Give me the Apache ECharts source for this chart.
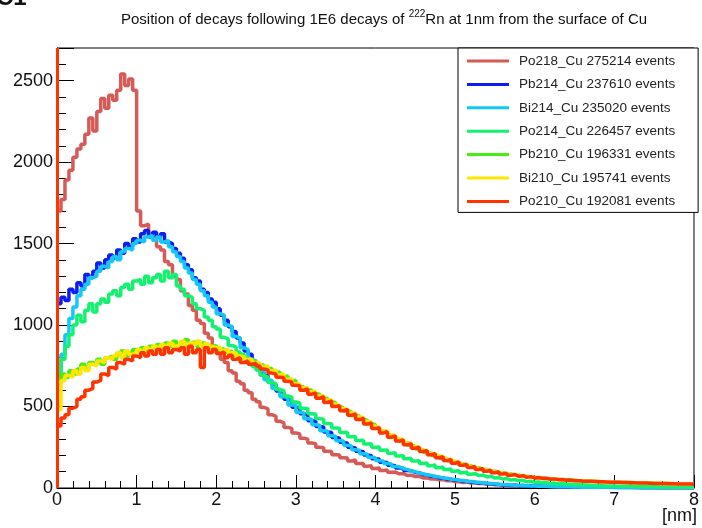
<!DOCTYPE html>
<html>
<head>
<meta charset="utf-8">
<script src="https://cdn.jsdelivr.net/npm/echarts@6/dist/echarts.min.js"></script>
<style>
html,body{margin:0;padding:0;background:#fff;}
#c{width:702px;height:528px;}
</style>
</head>
<body>
<div id="c"></div>
<script>
// Histogram bin width (nm) and x range
const binWidth = 0.05;
const xTicks = [0, 1, 2, 3, 4, 5, 6, 7, 8];

const seriesNames = [
  'Po218_Cu 275214 events',
  'Pb214_Cu 237610 events',
  'Bi214_Cu 235020 events',
  'Po214_Cu 226457 events',
  'Pb210_Cu 196331 events',
  'Bi210_Cu 195741 events',
  'Po210_Cu 192081 events'
];

// counts per bin (bins of 0.05 nm from 0 to 8 nm)
const po218 = [1700,1770,1890,1950,2030,2080,2110,2170,2270,2190,
 2310,2390,2330,2410,2380,2440,2540,2470,2510,2440,
 1700,1610,1620,1550,1540,1480,1460,1390,1370,1300,
 1280,1210,1190,1120,1090,1030,1010,950,920,860,
 840,790,770,720,705,655,640,600,585,545,
 530,495,485,450,440,410,400,372,365,338,
 332,305,300,276,272,250,247,226,224,204,
 203,185,184,166,172,150,151,134,136,120,
 122,108,110,97,98,87,88,77,79,70,
 71,62,63,55,57,50,51,44,45,39,
 40,34,36,30,31,27,28,24,24,21,
 21,18,19,16,17,14,15,12,13,11,
 11,10,11,9,9,8,9,8,7,7,
 7,6,6,6,6,5,5,5,5,4,
 4,4,4,4,3,3,3,3,3,3,
 2,3,2,2,2,2,2,2,1,1];

const pb214 = [1130,1170,1150,1220,1200,1260,1240,1310,1290,1330,
 1380,1350,1400,1430,1410,1460,1440,1500,1480,1530,
 1510,1560,1580,1540,1570,1540,1560,1510,1500,1470,
 1440,1410,1370,1340,1290,1270,1220,1200,1160,1140,
 1100,1060,1030,990,960,920,890,840,820,770,
 750,710,690,650,635,595,585,545,535,495,
 490,455,450,412,410,378,375,343,340,310,
 305,280,275,250,246,226,222,202,198,180,
 176,158,156,140,137,123,121,108,106,95,
 93,83,81,72,71,63,62,54,54,47,
 47,41,41,35,35,30,30,26,26,22,
 22,19,19,16,17,14,15,12,13,10,
 11,10,9,9,8,8,7,7,7,6,
 6,6,5,5,5,5,4,4,4,4,
 3,3,3,3,3,3,2,2,2,2,
 2,2,2,2,1,1,1,1,1,1];

const bi214 = [650,820,940,1040,1110,1180,1220,1250,1290,1300,
 1330,1360,1350,1390,1420,1400,1450,1470,1460,1500,
 1520,1510,1540,1550,1520,1540,1510,1520,1480,1450,
 1420,1390,1350,1320,1280,1250,1210,1180,1140,1110,
 1070,1060,1000,990,930,920,860,850,790,780,
 725,715,665,660,610,605,560,555,510,508,
 465,462,425,422,388,385,352,350,320,318,
 290,288,262,258,235,232,210,207,188,185,
 168,165,150,147,132,130,118,114,104,100,
 92,88,80,78,70,68,62,60,54,52,
 47,46,41,40,36,35,31,30,27,26,
 23,21,20,18,17,16,15,14,13,12,
 11,10,10,9,8,8,7,7,7,6,
 6,5,5,5,5,4,4,4,4,3,
 3,3,3,3,3,2,2,2,2,2,
 2,2,1,2,1,1,1,1,1,1];

const po214 = [650,790,870,940,1000,1060,1020,1090,1130,1080,
 1130,1160,1140,1190,1210,1180,1230,1250,1220,1270,
 1280,1250,1300,1260,1290,1310,1270,1330,1290,1310,
 1240,1220,1180,1170,1130,1100,1090,1050,1030,990,
 975,925,915,875,865,835,820,795,775,745,
 725,692,680,648,640,605,596,565,558,528,
 522,490,488,456,454,425,422,396,394,368,
 366,340,340,314,316,291,293,270,271,250,
 252,231,234,213,216,196,199,180,183,165,
 168,151,154,137,141,125,129,113,117,103,
 108,94,98,85,88,76,80,68,72,61,
 64,55,58,49,52,44,47,39,42,35,
 37,32,33,28,30,25,27,23,24,20,
 20,19,18,17,16,15,14,13,13,12,
 11,11,10,10,9,9,8,8,7,7,
 7,6,6,6,5,5,5,5,4,4];

const pb210 = [640,700,680,720,700,730,760,730,770,760,
 790,760,800,810,790,820,840,810,830,850,
 840,860,840,870,860,880,850,890,870,900,
 870,890,910,880,895,870,890,880,865,875,
 850,855,835,840,815,820,795,800,775,780,
 752,755,730,735,708,712,685,688,660,660,
 635,622,605,600,578,575,552,550,528,525,
 502,492,472,468,445,442,420,415,392,390,
 368,350,338,325,310,300,285,275,262,255,
 240,233,220,214,200,196,182,178,165,162,
 152,149,138,136,125,124,114,113,104,103,
 95,94,87,86,79,78,72,72,67,66,
 62,61,58,57,54,53,50,50,47,47,
 45,44,43,42,41,40,39,38,37,36,
 35,35,34,33,32,32,31,30,30,29,
 28,28,27,27,26,26,25,25,24,24];

const bi210 = [480,660,690,680,720,700,740,720,760,750,
 780,770,800,790,810,830,800,840,820,830,
 850,830,860,840,870,850,880,860,890,870,
 880,900,870,890,880,900,870,885,870,860,
 865,845,850,830,830,810,805,790,790,770,
 765,745,750,720,722,695,700,668,670,640,
 635,615,615,590,592,565,568,540,542,515,
 505,488,482,462,458,435,432,408,405,380,
 372,352,348,326,322,302,298,278,275,256,
 250,234,228,214,208,196,190,178,174,163,
 155,146,140,132,127,120,116,110,106,100,
 97,91,88,83,80,76,74,70,68,65,
 63,60,58,56,55,52,51,49,48,46,
 45,44,43,42,41,40,39,38,37,36,
 35,34,33,33,32,31,31,30,29,29,
 28,28,27,27,26,26,25,25,24,24];

const po210 = [380,430,450,490,500,545,560,600,610,650,
 660,700,690,740,730,770,760,790,780,810,
 800,830,810,840,820,850,820,860,830,850,
 840,860,820,870,830,850,740,860,830,850,
 825,835,800,815,790,800,770,780,760,765,
 748,730,725,705,700,680,676,655,650,630,
 628,600,608,576,584,550,560,525,535,500,
 505,474,482,446,455,420,428,392,400,365,
 370,338,345,312,320,288,295,265,272,244,
 250,224,230,204,210,186,192,168,175,152,
 160,140,146,126,132,114,120,103,110,94,
 100,86,91,78,83,71,76,65,70,60,
 64,58,60,54,56,50,52,47,49,44,
 45,43,42,41,40,39,38,37,36,35,
 35,34,33,32,32,31,30,30,29,28,
 28,27,27,26,26,25,25,24,24,23];

const seriesValues = [po218, pb214, bi214, po214, pb210, bi210, po210];
const seriesColors = ['#d65a55', '#0a1ef2', '#12c8f8', '#12f26e', '#44ee12', '#ffe600', '#ff3300'];

function toSteps(vals) {
  const pts = vals.map((v, i) => [+(i * binWidth).toFixed(3), v]);
  pts.push([+(vals.length * binWidth).toFixed(3), vals[vals.length - 1]]);
  return pts;
}

const FONT = "'Liberation Sans', Arial, Helvetica, sans-serif";
const chart = echarts.init(document.getElementById('c'), null, {renderer: 'canvas'});

const series = seriesValues.map((vals, k) => {
  const s = {
    name: seriesNames[k],
    type: 'line',
    step: 'end',
    data: toSteps(vals),
    showSymbol: false,
    symbol: 'none',
    lineStyle: {color: seriesColors[k], width: 3.5},
    itemStyle: {color: seriesColors[k]},
    animation: false,
    xAxisIndex: 0,
    yAxisIndex: 0
  };
  if (k === seriesValues.length - 1) {
    s.markLine = {
      silent: true,
      symbol: 'none',
      label: {show: false},
      lineStyle: {color: seriesColors[k], width: 3, type: 'solid'},
      data: [{xAxis: 0}],
      animation: false
    };
  }
  return s;
});

const option = {
  backgroundColor: '#fff',
  animation: false,
  title: {
    left: 116,
    top: 4,
    text: '{a|Position of decays following 1E6 decays of }{s|222}{a|Rn at 1nm from the surface of Cu}',
    textStyle: {
      fontWeight: 'normal',
      rich: {
        a: {fontFamily: FONT, fontSize: 15, fontWeight: 'normal', color: '#111', lineHeight: 18, verticalAlign: 'bottom'},
        s: {fontFamily: FONT, fontSize: 10, fontWeight: 'normal', color: '#111', lineHeight: 18, verticalAlign: 'top'}
      }
    }
  },
  grid: {
    left: 57, right: 5, top: 48, bottom: 40,
    show: true, borderColor: '#000', borderWidth: 1, backgroundColor: 'transparent'
  },
  legend: {
    orient: 'vertical',
    left: 458, top: 48,
    padding: [5, 23, 3, 9],
    itemGap: 7.4,
    itemWidth: 42, itemHeight: 3,
    icon: 'rect',
    backgroundColor: '#fff',
    borderColor: '#000', borderWidth: 1,
    textStyle: {fontFamily: FONT, fontSize: 13.5, lineHeight: 16, color: '#222', padding: [0, 0, 0, 5]},
    data: seriesNames,
    selectedMode: false,
    z: 10
  },
  xAxis: {
    type: 'value',
    min: xTicks[0], max: xTicks[xTicks.length - 1], interval: 1,
    axisLine: {show: true, onZero: false, lineStyle: {color: '#000', width: 1}},
    axisTick: {show: true, inside: true, length: 13, lineStyle: {color: '#000'}},
    minorTick: {show: true, splitNumber: 5, length: 7, lineStyle: {color: '#000'}},
    splitLine: {show: false},
    axisLabel: {fontFamily: FONT, fontSize: 18, color: '#111', margin: 3}
  },
  yAxis: [{
    type: 'value',
    min: 0, max: 2700, interval: 500,
    axisLine: {show: true, lineStyle: {color: '#000', width: 1}},
    axisTick: {show: true, inside: true, length: 17, lineStyle: {color: '#000'}},
    splitLine: {show: false},
    axisLabel: {
      fontFamily: FONT, fontSize: 18, color: '#111', margin: 4,
      formatter: v => (v % 500 === 0 ? String(v) : '')
    }
  }, {
    type: 'value',
    min: 0, max: 2700, interval: 100,
    position: 'left',
    axisLine: {show: false},
    axisTick: {show: true, inside: true, length: 9, lineStyle: {color: '#000'}},
    splitLine: {show: false},
    axisLabel: {show: false}
  }],
  graphic: [{
    type: 'text',
    right: 5, top: 507,
    style: {text: '[nm]', font: '18px ' + FONT, fill: '#111'}
  }, {
    type: 'text',
    left: -4, top: -14,
    style: {text: 'C1', font: 'bold 24px ' + FONT, fill: '#111'}
  }],
  series: series
};

chart.setOption(option);
</script>
</body>
</html>
